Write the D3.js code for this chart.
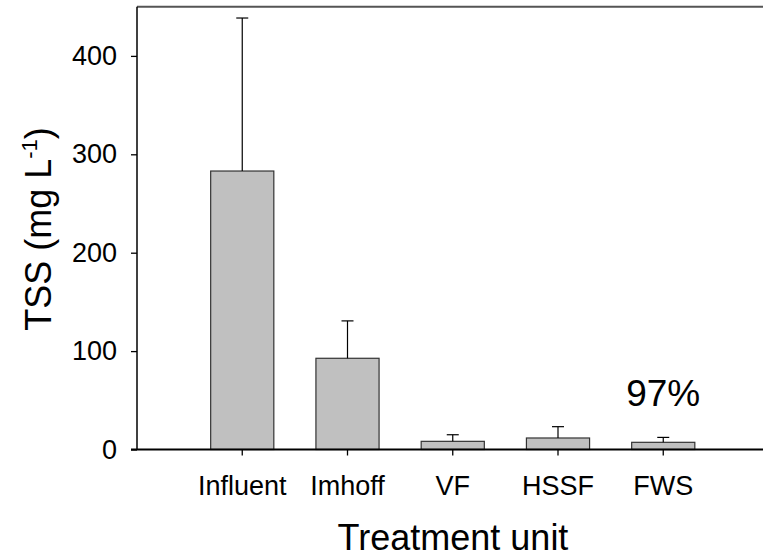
<!DOCTYPE html>
<html>
<head>
<meta charset="utf-8">
<script src="https://cdn.jsdelivr.net/npm/d3@7"></script>
<style>
    body { margin: 0; background: #fff; }
    svg { display: block; font-family: "Liberation Sans", Arial, sans-serif; }
</style>
</head>
<body>
<svg id="chart" width="763" height="557"></svg>
<script>
// treatment units and TSS values (mg/L), mean and standard deviation
const units = ["Influent", "Imhoff", "VF", "HSSF", "FWS"]
const tssMean = [283, 92.7, 8.3, 11.7, 7.3]
const tssSd = [155.5, 38, 6.7, 11.5, 5]
const yTicks = [0, 100, 200, 300, 400]
const removalLabel = "97%"

const svg = d3.select("#chart")

// plot box: left axis at x=137, zero line at y=449.5, right side runs off the page
const plotLeft = 137, plotBottom = 449.5, plotTop = 6.7
const step = 105.25

const y = d3.scaleLinear().domain([0, 450]).range([plotBottom, plotTop])

const x = d3.scaleBand()
    .domain(units)
    .range([plotLeft + step * 0.5, plotLeft + step * 5.5])
    .paddingInner(0.4)
    .paddingOuter(0.2)

// top frame line
svg.append("line")
    .attr("x1", plotLeft).attr("x2", 763)
    .attr("y1", plotTop).attr("y2", plotTop)
    .attr("stroke", "#555").attr("stroke-width", 2)

// bars
svg.selectAll(".bar")
    .data(units)
    .enter()
    .append("rect")
    .attr("class", "bar")
    .attr("x", function (d) { return x(d) })
    .attr("width", x.bandwidth())
    .attr("y", function (d, i) { return y(tssMean[i]) })
    .attr("height", function (d, i) { return plotBottom - y(tssMean[i]) })
    .attr("fill", "#c0c0c0")
    .attr("stroke", "#333")
    .attr("stroke-width", 1.2)

// upper error bars
let err = svg.selectAll(".err")
    .data(units)
    .enter()
    .append("g")
    .attr("class", "err")
    .attr("stroke", "#000")
    .attr("stroke-width", 1.2)

err.append("line")
    .attr("x1", function (d) { return x(d) + x.bandwidth() / 2 })
    .attr("x2", function (d) { return x(d) + x.bandwidth() / 2 })
    .attr("y1", function (d, i) { return y(tssMean[i]) })
    .attr("y2", function (d, i) { return y(tssMean[i] + tssSd[i]) })

err.append("line")
    .attr("x1", function (d) { return x(d) + x.bandwidth() / 2 - 6 })
    .attr("x2", function (d) { return x(d) + x.bandwidth() / 2 + 6 })
    .attr("y1", function (d, i) { return y(tssMean[i] + tssSd[i]) })
    .attr("y2", function (d, i) { return y(tssMean[i] + tssSd[i]) })

// y axis
let yAxis = svg.append("g")
    .attr("transform", "translate(" + plotLeft + ",0)")
    .call(d3.axisLeft(y).tickValues(yTicks).tickSize(6).tickPadding(14))
yAxis.select(".domain").attr("d", "M0," + plotTop + "V" + plotBottom).attr("stroke", "#000").attr("stroke-width", 1.5)
yAxis.selectAll(".tick line").attr("stroke", "#000").attr("stroke-width", 1.3)
yAxis.selectAll(".tick text")
    .attr("font-size", 27)
    .attr("font-family", "Liberation Sans, Arial, sans-serif")
    .attr("fill", "#000")

// x axis
let xAxis = svg.append("g")
    .attr("transform", "translate(0," + plotBottom + ")")
    .call(d3.axisBottom(x).tickSize(6).tickPadding(20))
xAxis.select(".domain").attr("d", "M" + (plotLeft - 6) + ",0H763").attr("stroke", "#000").attr("stroke-width", 2.2)
xAxis.selectAll(".tick line").attr("stroke", "#000").attr("stroke-width", 1.3)
xAxis.selectAll(".tick text")
    .attr("font-size", 27)
    .attr("font-family", "Liberation Sans, Arial, sans-serif")
    .attr("fill", "#000")

// axis titles
svg.append("text")
    .attr("x", 453)
    .attr("y", 550)
    .attr("text-anchor", "middle")
    .attr("font-size", 36)
    .text("Treatment unit")

let yTitle = svg.append("text")
    .attr("transform", "translate(51,229) rotate(-90)")
    .attr("text-anchor", "middle")
    .attr("font-size", 36)
yTitle.append("tspan").text("TSS (mg L")
yTitle.append("tspan").attr("font-size", 22).attr("dy", -14).text("-1")
yTitle.append("tspan").attr("dy", 14).text(")")

// removal efficiency note above the last bar
svg.append("text")
    .attr("x", x("FWS") + x.bandwidth() / 2)
    .attr("y", 406)
    .attr("text-anchor", "middle")
    .attr("font-size", 37)
    .text(removalLabel)
</script>
</body>
</html>
